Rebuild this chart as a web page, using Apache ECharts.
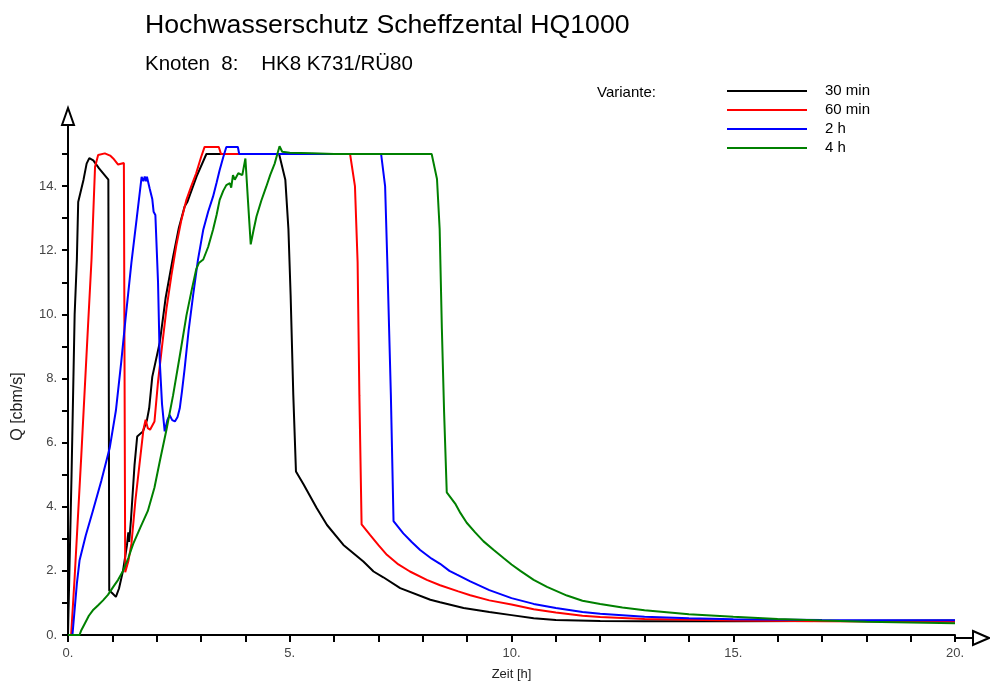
<!DOCTYPE html>
<html>
<head>
<meta charset="utf-8">
<script src="https://cdn.jsdelivr.net/npm/echarts@6/dist/echarts.min.js"></script>
<style>html,body{margin:0;padding:0;background:#fff;overflow:hidden}#c{width:990px;height:686px}</style>
</head>
<body>
<div id="c"></div>
<script>
// ---- data: [time h, Q cbm/s] ----
const seriesNames = ['30 min', '60 min', '2 h', '4 h'];
const xTicks = [0, 5, 10, 15, 20];
const yTicks = [0, 2, 4, 6, 8, 10, 12, 14];

const q30min = [[0,0],[0.02,0],[0.08,5],[0.15,10],[0.2,11.7],[0.23,13.5],[0.35,14.2],[0.42,14.7],[0.48,14.87],[0.57,14.8],[0.7,14.55],[0.91,14.2],[0.93,14.2],[0.93,1.39],[1.0,1.3],[1.08,1.19],[1.15,1.45],[1.24,2.0],[1.33,2.8],[1.36,3.2],[1.38,2.9],[1.42,3.6],[1.5,5.3],[1.56,6.19],[1.69,6.35],[1.78,6.7],[1.83,7.07],[1.9,8.05],[2.07,9.13],[2.2,10.5],[2.37,11.8],[2.5,12.7],[2.63,13.36],[2.69,13.5],[2.9,14.3],[3.12,15.0],[4.76,15.0],[4.9,14.2],[4.97,12.66],[5.02,10.59],[5.08,7.48],[5.14,5.1],[5.31,4.7],[5.61,3.95],[5.84,3.43],[6.21,2.81],[6.66,2.29],[6.89,1.98],[7.11,1.8],[7.49,1.46],[8.17,1.1],[8.39,1.02],[8.92,0.84],[9.5,0.72],[10,0.62],[10.5,0.52],[11,0.47],[12,0.44],[13,0.43],[15,0.43],[17,0.44],[20,0.45]];

const q60min = [[0,0],[0.07,0],[0.15,1.8],[0.3,5.6],[0.45,9.6],[0.53,11.7],[0.61,14.6],[0.68,14.97],[0.83,15.02],[0.95,14.95],[1.02,14.86],[1.13,14.67],[1.26,14.72],[1.28,14.72],[1.29,1.96],[1.36,2.3],[1.43,2.84],[1.52,4.2],[1.62,5.42],[1.7,6.4],[1.75,6.71],[1.8,6.45],[1.85,6.4],[1.95,6.66],[2.03,7.9],[2.12,9.0],[2.22,10.17],[2.33,11.2],[2.44,12.13],[2.55,12.9],[2.67,13.57],[2.78,14.0],[2.89,14.4],[3.0,14.9],[3.08,15.22],[3.4,15.22],[3.45,15.0],[6.36,15.0],[6.47,14.0],[6.53,11.63],[6.57,7.48],[6.62,3.45],[6.81,3.12],[7.0,2.8],[7.19,2.5],[7.45,2.2],[7.71,1.98],[8.09,1.72],[8.39,1.55],[8.8,1.36],[9.07,1.24],[9.5,1.08],[10,0.95],[10.5,0.8],[11,0.7],[11.6,0.6],[12,0.56],[13,0.5],[15,0.45],[17,0.43],[20,0.41]];

const q2h = [[0,0],[0.1,0],[0.15,0.8],[0.2,1.6],[0.26,2.32],[0.4,3.1],[0.56,3.87],[0.75,4.8],[0.94,5.83],[1.08,7.0],[1.2,8.51],[1.3,9.9],[1.43,11.61],[1.55,13.0],[1.66,14.29],[1.7,14.15],[1.73,14.3],[1.76,14.15],[1.78,14.29],[1.84,13.93],[1.9,13.6],[1.93,13.2],[1.97,13.1],[2.0,13.05],[2.03,11.0],[2.07,8.51],[2.12,7.2],[2.18,6.35],[2.24,6.7],[2.29,6.86],[2.35,6.7],[2.41,6.66],[2.47,6.8],[2.52,7.07],[2.57,7.6],[2.63,8.31],[2.72,9.5],[2.82,10.58],[2.93,11.7],[3.05,12.64],[3.16,13.2],[3.27,13.67],[3.35,14.1],[3.42,14.5],[3.5,14.9],[3.57,15.22],[3.83,15.22],[3.86,15.0],[7.06,15.0],[7.15,14.0],[7.2,11.63],[7.28,7.48],[7.34,3.55],[7.56,3.17],[7.75,2.9],[7.94,2.65],[8.2,2.38],[8.39,2.22],[8.6,2.0],[8.77,1.88],[9.07,1.67],[9.5,1.4],[10,1.15],[10.5,0.97],[11,0.84],[11.6,0.72],[12,0.66],[13,0.57],[14,0.52],[15,0.49],[17,0.47],[20,0.46]];

const q4h = [[0,0],[0.26,0],[0.3,0.15],[0.38,0.36],[0.47,0.6],[0.56,0.77],[0.68,0.93],[0.79,1.08],[0.9,1.25],[1.02,1.5],[1.13,1.72],[1.24,2.0],[1.36,2.4],[1.47,2.84],[1.63,3.35],[1.8,3.87],[1.95,4.6],[2.07,5.42],[2.22,6.4],[2.37,7.48],[2.52,8.7],[2.67,9.96],[2.78,10.7],[2.89,11.4],[2.95,11.6],[3.05,11.71],[3.16,12.1],[3.27,12.64],[3.35,13.1],[3.42,13.57],[3.5,13.85],[3.57,14.03],[3.65,14.09],[3.68,13.95],[3.72,14.34],[3.76,14.2],[3.8,14.24],[3.84,14.4],[3.87,14.45],[3.93,14.34],[4.0,14.86],[4.06,13.5],[4.12,12.18],[4.18,12.6],[4.25,13.05],[4.36,13.55],[4.47,13.98],[4.56,14.35],[4.66,14.7],[4.72,15.0],[4.77,15.24],[4.83,15.07],[5.0,15.04],[5.5,15.02],[6,15.0],[8.2,15.0],[8.32,14.22],[8.38,12.66],[8.43,9.55],[8.48,6.96],[8.54,4.45],[8.73,4.1],[8.85,3.8],[8.99,3.5],[9.18,3.2],[9.37,2.92],[9.6,2.65],[9.82,2.4],[10,2.2],[10.2,2.0],[10.5,1.72],[10.8,1.5],[11.25,1.23],[11.6,1.07],[12,0.97],[12.5,0.86],[13,0.77],[14,0.65],[15,0.57],[16,0.5],[17,0.45],[18,0.41],[20,0.37]];

const seriesData = [q30min, q60min, q2h, q4h];
const colors = ['#000000', '#ff0000', '#0000ff', '#008000'];

const FONT = 'Liberation Sans, Arial, sans-serif';
const G = {left: 68, top: 154, width: 887, height: 484};

const chart = echarts.init(document.getElementById('c'), null, {renderer: 'canvas', width: 990, height: 686});

const axisX0 = G.left, axisX1 = G.left + G.width, axisY = G.top + G.height, axisYTop = G.top;

chart.setOption({
  animation: false,
  backgroundColor: '#ffffff',
  color: colors,
  title: [
    {text: 'Hochwasserschutz Scheffzental HQ1000', left: 145, top: 12, padding: 0,
     textStyle: {fontFamily: FONT, fontSize: 26.7, fontWeight: 'normal', color: '#000'}},
    {text: 'Knoten  8:    HK8 K731/RÜ80', left: 145, top: 54, padding: 0,
     textStyle: {fontFamily: FONT, fontSize: 20.5, fontWeight: 'normal', color: '#000'}},
    {text: 'Variante:', left: 597, top: 85, padding: 0,
     textStyle: {fontFamily: FONT, fontSize: 15, fontWeight: 'normal', color: '#000'}}
  ],
  legend: {
    orient: 'vertical', left: 727, top: 83, padding: 0,
    icon: 'rect', itemWidth: 80, itemHeight: 2, itemGap: 3,
    textStyle: {fontFamily: FONT, fontSize: 15, color: '#000', lineHeight: 16, padding: [0, 0, 0, 13]},
    data: seriesNames
  },
  grid: {left: G.left, top: G.top, width: G.width, height: G.height},
  xAxis: {
    type: 'value', min: 0, max: 20, interval: 1,
    name: 'Zeit [h]', nameLocation: 'middle', nameGap: 33,
    nameTextStyle: {fontFamily: FONT, fontSize: 13, color: '#222'},
    axisLine: {lineStyle: {color: '#000', width: 2}},
    axisTick: {length: 7, lineStyle: {color: '#000', width: 2}},
    axisLabel: {fontFamily: FONT, fontSize: 13, color: '#444', margin: 12,
      formatter: v => (xTicks.indexOf(v) >= 0 ? v + '.' : '')},
    splitLine: {show: false}
  },
  yAxis: {
    type: 'value', min: 0, max: 15, interval: 1,
    name: 'Q [cbm/s]', nameLocation: 'middle', nameGap: 42, nameRotate: 90,
    nameTextStyle: {fontFamily: FONT, fontSize: 16, color: '#222', padding: [0, 24, 0, 0]},
    axisLine: {show: true, lineStyle: {color: '#000', width: 2}},
    axisTick: {show: true, length: 6, lineStyle: {color: '#000', width: 2}},
    axisLabel: {fontFamily: FONT, fontSize: 13, color: '#444', margin: 11,
      formatter: v => (yTicks.indexOf(v) >= 0 ? v + '.' : '')},
    splitLine: {show: false}
  },
  series: seriesNames.map((n, i) => ({
    name: n, type: 'line', data: seriesData[i], showSymbol: false, symbol: 'none', clip: false,
    lineStyle: {width: 2, color: colors[i]}, itemStyle: {color: colors[i]}, z: 2 + i
  })),
  graphic: [
    {type: 'line', shape: {x1: axisX1, y1: axisY, x2: 973, y2: axisY}, style: {stroke: '#000', lineWidth: 2}, z: 10},
    {type: 'polygon', shape: {points: [[973, axisY - 7], [989, axisY], [973, axisY + 7]]}, style: {fill: '#fff', stroke: '#000', lineWidth: 2}, z: 10},
    {type: 'line', shape: {x1: axisX0, y1: axisYTop, x2: axisX0, y2: 125}, style: {stroke: '#000', lineWidth: 2}, z: 10},
    {type: 'polygon', shape: {points: [[axisX0 - 6, 125], [axisX0, 108], [axisX0 + 6, 125]]}, style: {fill: '#fff', stroke: '#000', lineWidth: 2}, z: 10}
  ]
});
</script>
</body>
</html>
